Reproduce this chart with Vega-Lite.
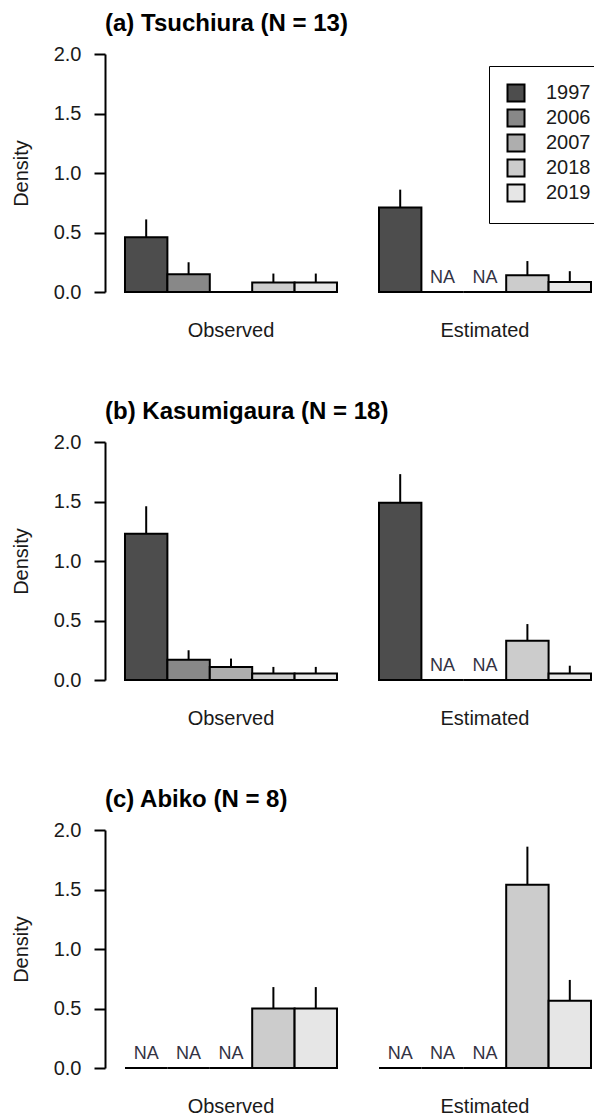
{
  "$schema": "https://vega.github.io/schema/vega-lite/v6.json",
  "background": "white",
  "padding": {"left": 11, "top": 12, "right": 0, "bottom": 0},
  "config": {
    "font": "Liberation Sans",
    "view": {"stroke": null},
    "axis": {"grid": false, "labelFont": "Liberation Sans", "titleFont": "Liberation Sans", "labelColor": "#1a1a1a", "titleColor": "#1a1a1a", "domainColor": "black", "tickColor": "black"},
    "legend": {"labelFont": "Liberation Sans"},
    "title": {"font": "Liberation Sans", "color": "black"}
  },
  "datasets": {
    "d": [
      {"site": "a", "type": "Observed", "year": "1997", "density": 0.46, "upper": 0.61, "note": ""},
      {"site": "a", "type": "Observed", "year": "2006", "density": 0.15, "upper": 0.25, "note": ""},
      {"site": "a", "type": "Observed", "year": "2007", "density": 0, "upper": 0, "note": ""},
      {"site": "a", "type": "Observed", "year": "2018", "density": 0.08, "upper": 0.155, "note": ""},
      {"site": "a", "type": "Observed", "year": "2019", "density": 0.08, "upper": 0.155, "note": ""},
      {"site": "a", "type": "Estimated", "year": "1997", "density": 0.71, "upper": 0.86, "note": ""},
      {"site": "a", "type": "Estimated", "year": "2006", "density": 0, "upper": 0, "note": "NA"},
      {"site": "a", "type": "Estimated", "year": "2007", "density": 0, "upper": 0, "note": "NA"},
      {"site": "a", "type": "Estimated", "year": "2018", "density": 0.14, "upper": 0.26, "note": ""},
      {"site": "a", "type": "Estimated", "year": "2019", "density": 0.085, "upper": 0.175, "note": ""},
      {"site": "b", "type": "Observed", "year": "1997", "density": 1.23, "upper": 1.46, "note": ""},
      {"site": "b", "type": "Observed", "year": "2006", "density": 0.17, "upper": 0.25, "note": ""},
      {"site": "b", "type": "Observed", "year": "2007", "density": 0.11, "upper": 0.18, "note": ""},
      {"site": "b", "type": "Observed", "year": "2018", "density": 0.055, "upper": 0.11, "note": ""},
      {"site": "b", "type": "Observed", "year": "2019", "density": 0.055, "upper": 0.11, "note": ""},
      {"site": "b", "type": "Estimated", "year": "1997", "density": 1.49, "upper": 1.73, "note": ""},
      {"site": "b", "type": "Estimated", "year": "2006", "density": 0, "upper": 0, "note": "NA"},
      {"site": "b", "type": "Estimated", "year": "2007", "density": 0, "upper": 0, "note": "NA"},
      {"site": "b", "type": "Estimated", "year": "2018", "density": 0.33, "upper": 0.47, "note": ""},
      {"site": "b", "type": "Estimated", "year": "2019", "density": 0.055, "upper": 0.12, "note": ""},
      {"site": "c", "type": "Observed", "year": "1997", "density": 0, "upper": 0, "note": "NA"},
      {"site": "c", "type": "Observed", "year": "2006", "density": 0, "upper": 0, "note": "NA"},
      {"site": "c", "type": "Observed", "year": "2007", "density": 0, "upper": 0, "note": "NA"},
      {"site": "c", "type": "Observed", "year": "2018", "density": 0.5, "upper": 0.68, "note": ""},
      {"site": "c", "type": "Observed", "year": "2019", "density": 0.5, "upper": 0.68, "note": ""},
      {"site": "c", "type": "Estimated", "year": "1997", "density": 0, "upper": 0, "note": "NA"},
      {"site": "c", "type": "Estimated", "year": "2006", "density": 0, "upper": 0, "note": "NA"},
      {"site": "c", "type": "Estimated", "year": "2007", "density": 0, "upper": 0, "note": "NA"},
      {"site": "c", "type": "Estimated", "year": "2018", "density": 1.54, "upper": 1.86, "note": ""},
      {"site": "c", "type": "Estimated", "year": "2019", "density": 0.565, "upper": 0.74, "note": ""}
    ]
  },
  "bounds": "flush",
  "spacing": 150,
  "resolve": {"scale": {"fill": "independent"}, "legend": {"fill": "independent"}},
  "vconcat": [
    {
      "title": {"text": "(a) Tsuchiura (N = 13)", "anchor": "start", "frame": "group", "fontSize": 24, "fontWeight": "bold", "offset": 8},
      "width": 488, "height": 238,
      "data": {"name": "d"},
      "transform": [{"filter": "datum.site == 'a'"}],
      "encoding": {
        "x": {"field": "type", "type": "nominal", "sort": ["Observed", "Estimated"], "scale": {"paddingInner": 0.1654, "paddingOuter": 0.0433, "align": 0.909, "round": false}, "axis": {"title": null, "labelAngle": 0, "domain": false, "ticks": false, "tickSize": 0, "labelPadding": 28, "labelFontSize": 20}},
        "xOffset": {"field": "year", "type": "nominal", "sort": ["1997", "2006", "2007", "2018", "2019"], "scale": {"paddingInner": 0, "paddingOuter": 0, "round": false}}
      },
      "layer": [
        {
          "mark": {"type": "bar", "stroke": "black", "strokeWidth": 2},
          "encoding": {
            "y": {"field": "density", "type": "quantitative", "scale": {"domain": [0, 2], "nice": false}, "axis": {"title": "Density", "values": [0, 0.5, 1, 1.5, 2], "format": ".1f", "labelFontSize": 20, "titleFontSize": 20, "titleFontWeight": "normal", "tickSize": 11, "tickWidth": 2, "domainWidth": 2, "labelPadding": 13, "titlePadding": 22}},
            "fill": {"field": "year", "type": "nominal", "scale": {"domain": ["1997", "2006", "2007", "2018", "2019"], "range": ["#4D4D4D", "#888888", "#AEAEAE", "#CCCCCC", "#E6E6E6"]},
              "legend": {"title": null, "orient": "none", "legendX": 384, "legendY": 12, "symbolType": "square", "symbolSize": 289, "symbolStrokeColor": "black", "symbolStrokeWidth": 2, "labelFontSize": 20, "labelColor": "#1a1a1a", "labelOffset": 20, "rowPadding": -1, "padding": 17, "strokeColor": "black", "fillColor": "white", "cornerRadius": 0}}
          }
        },
        {
          "transform": [{"filter": "datum.upper > datum.density"}],
          "mark": {"type": "rule", "strokeWidth": 2, "color": "black"},
          "encoding": {"y": {"field": "density", "type": "quantitative"}, "y2": {"field": "upper"}}
        },
        {
          "transform": [{"filter": "datum.note == 'NA'"}],
          "mark": {"type": "text", "baseline": "alphabetic", "dy": -9, "fontSize": 18, "color": "#333344"},
          "encoding": {"y": {"datum": 0, "type": "quantitative"}, "text": {"field": "note"}}
        }
      ]
    },
    {
      "title": {"text": "(b) Kasumigaura (N = 18)", "anchor": "start", "frame": "group", "fontSize": 24, "fontWeight": "bold", "offset": 8},
      "width": 488, "height": 238,
      "data": {"name": "d"},
      "transform": [{"filter": "datum.site == 'b'"}],
      "encoding": {
        "x": {"field": "type", "type": "nominal", "sort": ["Observed", "Estimated"], "scale": {"paddingInner": 0.1654, "paddingOuter": 0.0433, "align": 0.909, "round": false}, "axis": {"title": null, "labelAngle": 0, "domain": false, "ticks": false, "tickSize": 0, "labelPadding": 28, "labelFontSize": 20}},
        "xOffset": {"field": "year", "type": "nominal", "sort": ["1997", "2006", "2007", "2018", "2019"], "scale": {"paddingInner": 0, "paddingOuter": 0, "round": false}}
      },
      "layer": [
        {
          "mark": {"type": "bar", "stroke": "black", "strokeWidth": 2},
          "encoding": {
            "y": {"field": "density", "type": "quantitative", "scale": {"domain": [0, 2], "nice": false}, "axis": {"title": "Density", "values": [0, 0.5, 1, 1.5, 2], "format": ".1f", "labelFontSize": 20, "titleFontSize": 20, "titleFontWeight": "normal", "tickSize": 11, "tickWidth": 2, "domainWidth": 2, "labelPadding": 13, "titlePadding": 22}},
            "fill": {"field": "year", "type": "nominal", "scale": {"domain": ["1997", "2006", "2007", "2018", "2019"], "range": ["#4D4D4D", "#888888", "#AEAEAE", "#CCCCCC", "#E6E6E6"]}, "legend": null}
          }
        },
        {
          "transform": [{"filter": "datum.upper > datum.density"}],
          "mark": {"type": "rule", "strokeWidth": 2, "color": "black"},
          "encoding": {"y": {"field": "density", "type": "quantitative"}, "y2": {"field": "upper"}}
        },
        {
          "transform": [{"filter": "datum.note == 'NA'"}],
          "mark": {"type": "text", "baseline": "alphabetic", "dy": -9, "fontSize": 18, "color": "#333344"},
          "encoding": {"y": {"datum": 0, "type": "quantitative"}, "text": {"field": "note"}}
        }
      ]
    },
    {
      "title": {"text": "(c) Abiko (N = 8)", "anchor": "start", "frame": "group", "fontSize": 24, "fontWeight": "bold", "offset": 8},
      "width": 488, "height": 238,
      "data": {"name": "d"},
      "transform": [{"filter": "datum.site == 'c'"}],
      "encoding": {
        "x": {"field": "type", "type": "nominal", "sort": ["Observed", "Estimated"], "scale": {"paddingInner": 0.1654, "paddingOuter": 0.0433, "align": 0.909, "round": false}, "axis": {"title": null, "labelAngle": 0, "domain": false, "ticks": false, "tickSize": 0, "labelPadding": 28, "labelFontSize": 20}},
        "xOffset": {"field": "year", "type": "nominal", "sort": ["1997", "2006", "2007", "2018", "2019"], "scale": {"paddingInner": 0, "paddingOuter": 0, "round": false}}
      },
      "layer": [
        {
          "mark": {"type": "bar", "stroke": "black", "strokeWidth": 2},
          "encoding": {
            "y": {"field": "density", "type": "quantitative", "scale": {"domain": [0, 2], "nice": false}, "axis": {"title": "Density", "values": [0, 0.5, 1, 1.5, 2], "format": ".1f", "labelFontSize": 20, "titleFontSize": 20, "titleFontWeight": "normal", "tickSize": 11, "tickWidth": 2, "domainWidth": 2, "labelPadding": 13, "titlePadding": 22}},
            "fill": {"field": "year", "type": "nominal", "scale": {"domain": ["1997", "2006", "2007", "2018", "2019"], "range": ["#4D4D4D", "#888888", "#AEAEAE", "#CCCCCC", "#E6E6E6"]}, "legend": null}
          }
        },
        {
          "transform": [{"filter": "datum.upper > datum.density"}],
          "mark": {"type": "rule", "strokeWidth": 2, "color": "black"},
          "encoding": {"y": {"field": "density", "type": "quantitative"}, "y2": {"field": "upper"}}
        },
        {
          "transform": [{"filter": "datum.note == 'NA'"}],
          "mark": {"type": "text", "baseline": "alphabetic", "dy": -9, "fontSize": 18, "color": "#333344"},
          "encoding": {"y": {"datum": 0, "type": "quantitative"}, "text": {"field": "note"}}
        }
      ]
    }
  ]
}
